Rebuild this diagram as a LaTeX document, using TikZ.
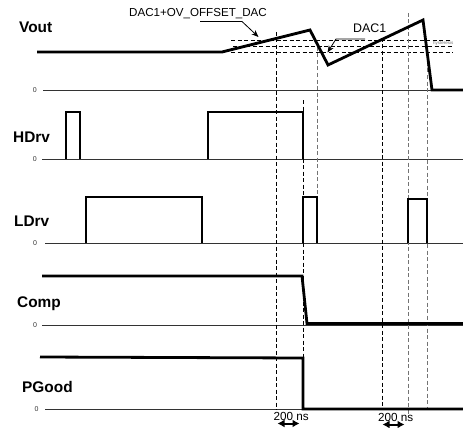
\documentclass[tikz,border=0pt]{standalone}
\usepackage{fontspec}
\setmainfont{Liberation Sans}
\usetikzlibrary{arrows.meta}
\begin{document}
\begin{tikzpicture}[x=1pt,y=-1pt,
  sig/.style={line width=2.8pt, line join=miter, line cap=butt},
  zero/.style={line width=1pt, black!80},
  dsh/.style={line width=0.9pt, dash pattern=on 4pt off 2.5pt},
  dshg/.style={dsh, black!55},
  lab/.style={font=\fontsize{15.4}{16}\selectfont\bfseries, anchor=base west, inner sep=0},
  zl/.style={font=\fontsize{7}{8}\selectfont, inner sep=0, black!80},
  txt/.style={font=\fontsize{11.6}{12}\selectfont, anchor=base west, inner sep=0},
  lead/.style={line width=0.8pt, -{Stealth[length=7pt,width=5.5pt]}},
  dbl/.style={line width=2pt, {Latex[length=7pt,width=8pt]}-{Latex[length=7pt,width=8pt]}}
]
\useasboundingbox (0,0) rectangle (463,428);

% labels
\node[lab] (vout) at (19,33) {Vout};
\node[lab] (hdrv) at (13,142) {HDrv};
\node[lab] (ldrv) at (14,226) {LDrv};
\node[lab] (comp) at (17,307.5) {Comp};
\node[lab] (pgood) at (22,392) {PGood};

% zero labels
\node[zl] (z1) at (34.7,90) {0};
\node[zl] (z2) at (34.7,159) {0};
\node[zl] (z3) at (35,243) {0};
\node[zl] (z4) at (35,325) {0};
\node[zl] (z5) at (36.5,409) {0};

% zero lines
\draw[zero] (43,90) -- (463,90);
\draw[zero] (42,159) -- (463,159);
\draw[zero] (45,243) -- (463,243);
\draw[zero] (42,325) -- (463,325);
\draw[zero] (45,409) -- (463,409);

% horizontal dashed thresholds
\draw[dsh] (231,40.5) -- (450,40.5);
\draw[dsh] (233,46.5) -- (453,46.5);
\draw[dsh] (231,52.5) -- (453,52.5);
\node[font=\fontsize{4.5}{5}\selectfont, inner sep=0, black!55, anchor=west] (hys) at (433,43.5) {hysteresis};

% vertical dashed lines
\draw[dsh] (276.5,32) -- (276.5,410);
\draw[dsh] (303,100) -- (303,357);
\draw[dshg] (317,47) -- (317,197);
\draw[dsh] (382.5,38) -- (382.5,410);
\draw[dshg] (408,13) -- (408,415);
\draw[dshg] (427.5,62) -- (427.5,409);

% signals
\draw[sig] (37,52) -- (222,52) -- (310,30) -- (328,65) -- (423,20) -- (432,90) -- (463,90);
\draw[sig] (66,159) -- (66,112) -- (80,112) -- (80,159);
\draw[sig] (208,159) -- (208,112) -- (303,112) -- (303,159);
\draw[sig] (86,243) -- (86,197) -- (202,197) -- (202,243);
\draw[sig] (303,243) -- (303,197) -- (317,197) -- (317,243);
\draw[sig] (408,243) -- (408,199) -- (427,199) -- (427,243);
\draw[sig] (42,276) -- (302,276) -- (307,323.5) -- (463,323.5);
\draw[sig] (40,357) -- (303,358) -- (303,409) -- (463,409);

% annotations
\node[txt] (offs) at (129,17) {DAC1+OV\_OFFSET\_DAC};
\coordinate (o1) at (200,21.5);
\coordinate (o2) at (242,21.5);
\coordinate (o3) at (258.5,37);
\draw[lead] (o1) -- (o2) -- (o3);

\node[txt, font=\fontsize{12.4}{13}\selectfont] (dac) at (353,33) {DAC1};
\coordinate (d1) at (365,39);
\coordinate (d2) at (336,39);
\coordinate (d3) at (327.5,52.5);
\draw[lead] (d1) -- (d2) -- (d3);

\node[txt, font=\fontsize{11.7}{12}\selectfont] (ns1) at (273.5,420) {200 ns};
\node[txt, font=\fontsize{11.7}{12}\selectfont] (ns2) at (378,421) {200 ns};
\coordinate (a1) at (277.5,423.5);
\coordinate (a2) at (299.5,423.5);
\coordinate (b1) at (382.5,424.5);
\coordinate (b2) at (404.5,424.5);
\draw[dbl] (a1) -- (a2);
\draw[dbl] (b1) -- (b2);
\end{tikzpicture}
\end{document}
